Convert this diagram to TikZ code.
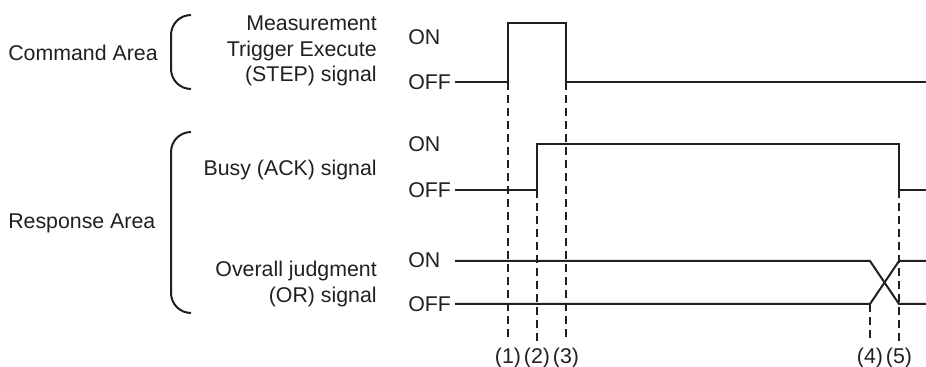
\documentclass[tikz,border=0pt]{standalone}
\usepackage{fontspec}
\setmainfont{Liberation Sans}
\usepackage{xcolor}
\usepackage{tikz}
\usetikzlibrary{positioning, calc}
\definecolor{inkgray}{RGB}{35,31,32}

\begin{document}
\begin{tikzpicture}[
    x=0.75pt, y=-0.75pt,
    every node/.style={font=\fontsize{16}{19}\selectfont, text=inkgray, inner sep=0pt},
    arealabel/.style={anchor=west},
    signame/.style={anchor=east, align=right},
    levellabel/.style={anchor=west},
    wave/.style={line width=1.5pt, draw=inkgray},
    bracketline/.style={line width=1.5pt, draw=inkgray, rounded corners=15pt},
    guide/.style={line width=1.1pt, draw=inkgray, dash pattern=on 6pt off 3.75pt, shorten >=4.5pt}
]
\useasboundingbox (0,0) rectangle (926,367);

\node[arealabel] (cmdarea) at (8,53) {Command Area};
\node[arealabel] (resarea) at (8,223) {Response Area};

\draw[bracketline] (191,15) -- (171,15) -- (171,89) -- (191,89);
\draw[bracketline] (191,132) -- (171,132) -- (171,313) -- (191,313);

\node[signame] (stepsig) at (377,51) {Measurement\\Trigger Execute\\(STEP) signal};
\node[signame] (acksig) at (377,170) {Busy (ACK) signal};
\node[signame] (orsig) at (377,284) {Overall judgment\\(OR) signal};

\node[levellabel] (stepon) at (408,37) {ON};
\node[levellabel] (stepoff) at (408,82) {OFF};
\node[levellabel] (ackon) at (408,144) {ON};
\node[levellabel] (ackoff) at (408,190) {OFF};
\node[levellabel] (oron) at (408,260) {ON};
\node[levellabel] (oroff) at (408,304) {OFF};

\coordinate (t1) at (508,82);
\coordinate (t2) at (537,190);
\coordinate (t3) at (566,82);
\coordinate (t4) at (870,304);
\coordinate (t5) at (899,190);

\draw[wave] (455,82) -- (t1) -- (508,23) -- (566,23) -- (t3) -- (926,82);
\draw[wave] (455,190) -- (t2) -- (537,144) -- (899,144) -- (t5) -- (926,190);
\draw[wave] (455,261) -- (870,261) -- (899,304) -- (926,304);
\draw[wave] (455,304) -- (t4) -- (899,261) -- (926,261);

\node (l1) at (508,358) {(1)};
\node (l2) at (537,358) {(2)};
\node (l3) at (566,358) {(3)};
\node (l4) at (870,358) {(4)};
\node (l5) at (899,358) {(5)};

\draw[guide] (t1) -- (l1.north);
\draw[guide] (t2) -- (l2.north);
\draw[guide] (t3) -- (l3.north);
\draw[guide] (t4) -- (l4.north);
\draw[guide] (t5) -- (l5.north);
\end{tikzpicture}
\end{document}
